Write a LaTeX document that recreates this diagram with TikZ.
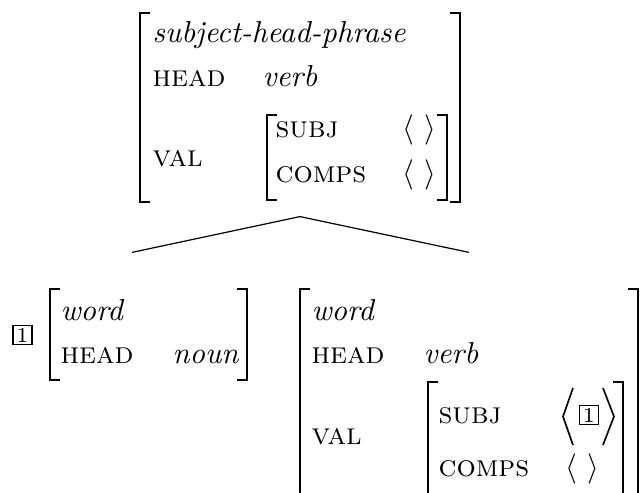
\documentclass[tikz,border=0pt]{standalone}
\usetikzlibrary{fit}
\begin{document}
\begin{tikzpicture}[x=0.33pt,y=-0.33pt,
  txt/.style={anchor=base west, inner sep=0pt, font=\fontsize{10}{12}\selectfont},
  feat/.style={txt, font=\fontsize{10}{12}\selectfont\scshape},
  typ/.style={txt, font=\fontsize{10}{12}\selectfont\itshape},
  brk/.style={line width=0.6pt, line join=miter},
  ang/.style={line width=0.55pt, line join=miter},
  tag/.style={draw, line width=0.4pt, inner sep=0pt, minimum width=6.3pt,
    minimum height=6.3pt, font=\fontsize{7}{8}\selectfont},
  branch/.style={line width=0.4pt},
  frame/.style={inner sep=0pt}
]
\newcommand\avmlbrack[3]{\draw[brk] (#1+10,#2) -| (#1,#3) -- (#1+10,#3);}
\newcommand\avmrbrack[3]{\draw[brk] (#1-10,#2) -| (#1,#3) -- (#1-10,#3);}

% page area
\fill[white] (0,0) rectangle (642,493);
\useasboundingbox (0,0) rectangle (642,493);
\clip (0,0) rectangle (642,493);

% ---- mother: subject-head-phrase ----
\node[frame, fit={(140,13) (460,216)}] (phrase) {};
\avmlbrack{140}{13}{202}
\avmrbrack{460}{13}{202}
\node[typ]  (m-type)  at (152,43)  {subject-head-phrase};
\node[feat] (m-head)  at (152,87)  {head};
\node[typ]  (m-headv) at (262,87)  {verb};
\node[feat] (m-val)   at (152,167) {val};
\avmlbrack{267}{115}{200}
\avmrbrack{447}{115}{200}
\node[feat] (m-subj)   at (275,138) {subj};
\node[txt]  (m-subjv)  at (402,138) {$\langle\ \rangle$};
\node[feat] (m-comps)  at (275,183) {comps};
\node[txt]  (m-compsv) at (402,183) {$\langle\ \rangle$};

% ---- subject daughter ----
\node[frame, fit={(13,253) (251,380)}] (subjdtr) {};
\node[tag] (s-tag) at (22.5,335) {1};
\avmlbrack{50}{289}{380}
\avmrbrack{247}{289}{380}
\node[typ]  (s-type)  at (60,321)  {word};
\node[feat] (s-head)  at (60,364)  {head};
\node[typ]  (s-headv) at (172,364) {noun};

% ---- head daughter ----
\node[frame, fit={(300,253) (638,493)}] (headdtr) {};
\avmlbrack{300}{289}{505}
\avmrbrack{638}{289}{505}
\node[typ]  (h-type)  at (311,321) {word};
\node[feat] (h-head)  at (311,364) {head};
\node[typ]  (h-headv) at (423,364) {verb};
\node[feat] (h-val)   at (311,445) {val};
\avmlbrack{428}{382}{505}
\avmrbrack{623}{382}{505}
\node[feat] (h-subj)  at (438,424) {subj};
\draw[ang] (573,388) -- (563,416.5) -- (573,445);
\node[tag] (h-tag) at (589,415) {1};
\draw[ang] (603,388) -- (614,416.5) -- (603,445);
\node[feat] (h-comps)  at (438,477) {comps};
\node[txt]  (h-compsv) at (565,477) {$\langle\ \rangle$};

% ---- branches ----
\draw[branch] (subjdtr.north) -- (phrase.south) -- (headdtr.north);
\end{tikzpicture}
\end{document}
